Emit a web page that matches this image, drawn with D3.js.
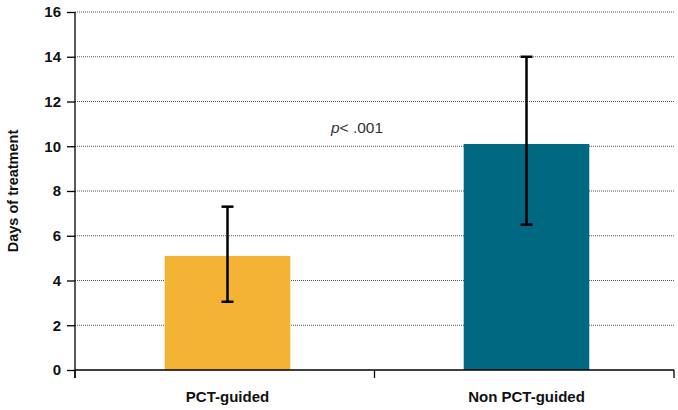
<!DOCTYPE html>
<html>
<head>
<meta charset="utf-8">
<script src="https://cdn.jsdelivr.net/npm/d3@7"></script>
<style>
  body { margin: 0; background: #fff; }
  text { font-family: "Liberation Sans", Arial, sans-serif; }
</style>
</head>
<body>
<svg width="678" height="410"></svg>
<script>
// Chart data
const groups = ['PCT-guided', 'Non PCT-guided'];
const means = [5.1, 10.1];
const errLow = [3.05, 6.5];
const errHigh = [7.3, 14.0];
const yTicks = [0, 2, 4, 6, 8, 10, 12, 14, 16];
const colors = ['#F5B335', '#006880'];

const svg = d3.select('svg');
const margin = { left: 75, right: 4, top: 12, bottom: 40 };
const width = 678, height = 410;

// bars sit a few pixels right of the band centres in the original
const x = d3.scaleBand()
  .domain(groups)
  .range([margin.left + 3, width - margin.right + 2])
  .paddingInner(0.58)
  .paddingOuter(0.29);

const y = d3.scaleLinear()
  .domain([0, 16])
  .range([height - margin.bottom, margin.top]);

// dotted gridlines
svg.append('g')
  .selectAll('line')
  .data(yTicks.filter(d => d > 0))
  .join('line')
    .attr('x1', margin.left)
    .attr('x2', width - margin.right)
    .attr('y1', d => y(d))
    .attr('y2', d => y(d))
    .attr('stroke', '#555')
    .attr('stroke-width', 1)
    .attr('stroke-dasharray', '1,1');

// bars
svg.append('g')
  .selectAll('rect')
  .data(groups)
  .join('rect')
    .attr('x', d => x(d))
    .attr('width', x.bandwidth())
    .attr('y', (d, i) => y(means[i]))
    .attr('height', (d, i) => y(0) - y(means[i]))
    .attr('fill', (d, i) => colors[i]);

// error bars
const eb = svg.append('g')
  .selectAll('g')
  .data(groups)
  .join('g')
    .attr('transform', d => `translate(${x(d) + x.bandwidth() / 2},0)`);

eb.append('line')
  .attr('y1', (d, i) => y(errLow[i]))
  .attr('y2', (d, i) => y(errHigh[i]))
  .attr('stroke', '#000')
  .attr('stroke-width', 2.5);

eb.selectAll('line.cap')
  .data((d, i) => [errLow[i], errHigh[i]])
  .join('line')
    .attr('class', 'cap')
    .attr('x1', -6)
    .attr('x2', 6)
    .attr('y1', d => y(d))
    .attr('y2', d => y(d))
    .attr('stroke', '#000')
    .attr('stroke-width', 2.5);

// y axis
const yAxis = svg.append('g')
  .attr('transform', `translate(${margin.left},0)`)
  .call(d3.axisLeft(y).tickValues(yTicks).tickSize(8).tickPadding(6));
yAxis.select('.domain').attr('d', `M0,${y(16)}V${y(0) + 8}`).attr('stroke', '#000').attr('stroke-width', 1.3);
yAxis.selectAll('.tick line').attr('stroke', '#000').attr('stroke-width', 1.3);
yAxis.selectAll('.tick text')
  .attr('font-size', 15)
  .attr('font-weight', 'bold')
  .attr('fill', '#111')
  .style('font-family', '"Liberation Sans", Arial, sans-serif');

// x axis
const xAxis = svg.append('g')
  .attr('transform', `translate(0,${y(0)})`);
xAxis.append('line')
  .attr('x1', margin.left)
  .attr('x2', width - margin.right)
  .attr('stroke', '#000')
  .attr('stroke-width', 1.5);
const bounds = [margin.left, (margin.left + width - margin.right) / 2, width - margin.right];
xAxis.selectAll('line.tk')
  .data(bounds)
  .join('line')
    .attr('class', 'tk')
    .attr('x1', d => d)
    .attr('x2', d => d)
    .attr('y1', 0)
    .attr('y2', 8)
    .attr('stroke', '#000')
    .attr('stroke-width', 1.3);
xAxis.selectAll('text')
  .data(groups)
  .join('text')
    .attr('x', (d, i) => x(d) + x.bandwidth() / 2)
    .attr('y', 32)
    .attr('text-anchor', 'middle')
    .attr('font-size', 15)
    .attr('font-weight', 'bold')
    .attr('fill', '#111')
    .text(d => d);

// y axis title
svg.append('text')
  .attr('transform', `translate(18,${(y(0) + y(16)) / 2}) rotate(-90)`)
  .attr('text-anchor', 'middle')
  .attr('font-size', 14.5)
  .attr('font-weight', 'bold')
  .attr('fill', '#111')
  .text('Days of treatment');

// p value annotation
const p = svg.append('text')
  .attr('x', 357)
  .attr('y', 133)
  .attr('text-anchor', 'middle')
  .attr('font-size', 15.5)
  .attr('fill', '#333');
p.append('tspan').attr('font-style', 'italic').text('p');
p.append('tspan').text('< .001');
</script>
</body>
</html>
